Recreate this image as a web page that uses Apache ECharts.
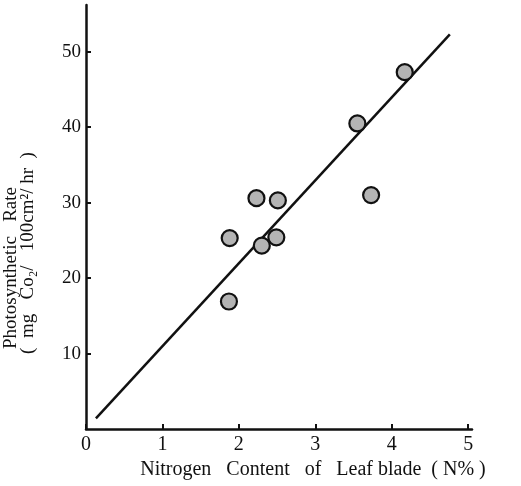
<!DOCTYPE html>
<html><head><meta charset="utf-8">
<script src="https://cdn.jsdelivr.net/npm/echarts@6/dist/echarts.min.js"></script>
<style>html,body{margin:0;padding:0;background:#fff}#c{width:521px;height:486px}</style>
</head><body><div id="c"></div>
<script>
var nitrogen = [1.87, 1.88, 2.23, 2.30, 2.49, 2.51, 3.55, 3.73, 4.17];
var photoRate = [16.9, 25.3, 30.6, 24.3, 25.4, 30.3, 40.5, 31.0, 47.3];
var fitX = [0.13, 4.76];
var fitY = [1.4, 52.3];
var xTicks = [0, 1, 2, 3, 4, 5];
var yTicks = [10, 20, 30, 40, 50];

var chart = echarts.init(document.getElementById('c'));
var serif = 'Liberation Serif';
chart.setOption({
  animation: false,
  backgroundColor: '#fff',
  grid: {left: 86, right: 49, top: 5, bottom: 57},
  xAxis: {
    type: 'value', min: 0, max: 5.05,
    axisLine: {lineStyle: {color: '#111', width: 2.5}},
    axisTick: {show: true, inside: true, length: 5, customValues: xTicks, lineStyle: {color: '#111', width: 2}},
    axisLabel: {customValues: xTicks, color: '#111', fontFamily: serif, fontSize: 20, margin: 6},
    splitLine: {show: false},
    name: 'Nitrogen   Content   of   Leaf blade  ( N% )',
    nameLocation: 'middle', nameGap: 31,
    nameTextStyle: {color: '#111', fontFamily: serif, fontSize: 20, padding: [0, 0, 0, 68]}
  },
  yAxis: {
    type: 'value', min: 0, max: 56.2,
    axisLine: {lineStyle: {color: '#111', width: 2.5}},
    axisTick: {show: true, inside: true, length: 5, customValues: yTicks, lineStyle: {color: '#111', width: 2}},
    axisLabel: {customValues: yTicks, color: '#111', fontFamily: serif, fontSize: 19, margin: 5},
    splitLine: {show: false}
  },
  graphic: [
    {type: 'text', x: 11, y: 268, rotation: Math.PI / 2,
     style: {text: 'Photosynthetic   Rate', fill: '#111', font: '19px "Liberation Serif"', align: 'center', verticalAlign: 'middle'}},
    {type: 'text', x: 28, y: 253, rotation: Math.PI / 2,
     style: {text: '(  mg   Co₂/   100cm²/ hr  )', fill: '#111', font: '19px "Liberation Serif"', align: 'center', verticalAlign: 'middle'}}
  ],
  series: [
    {type: 'line', data: fitX.map(function (x, i) { return [x, fitY[i]]; }),
     symbol: 'none', lineStyle: {color: '#111', width: 2.5}, z: 2},
    {type: 'scatter', data: nitrogen.map(function (x, i) { return [x, photoRate[i]]; }),
     symbol: 'circle', symbolSize: 16,
     itemStyle: {color: '#b4b4b4', borderColor: '#111', borderWidth: 2.2, opacity: 1}, z: 3}
  ]
});
</script></body></html>
